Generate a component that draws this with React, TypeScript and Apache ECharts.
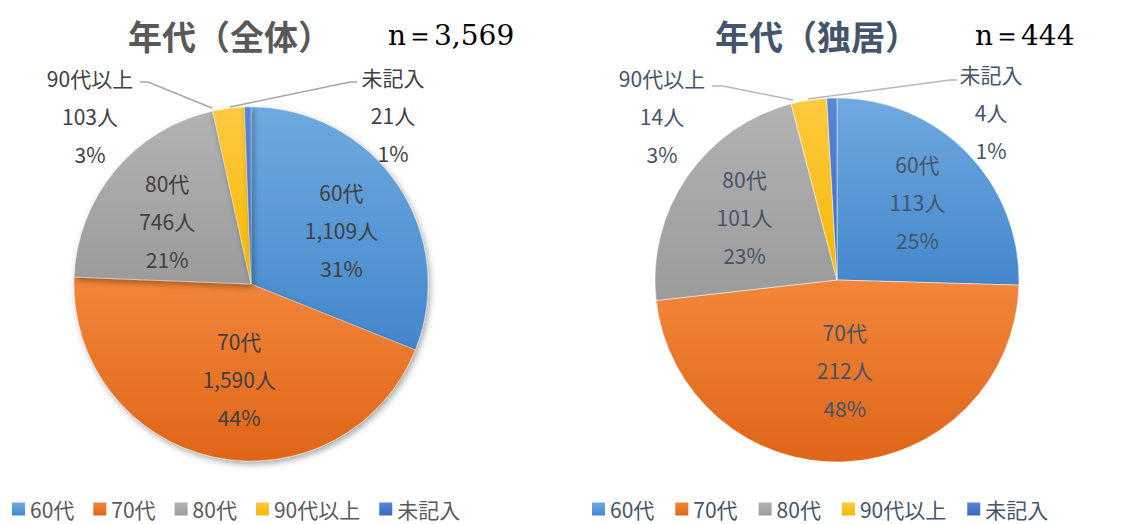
import React, { useEffect, useRef } from "react";
import * as echarts from "echarts";

const categories = ["60代", "70代", "80代", "90代以上", "未記入"];
const totalValues = [1109, 1590, 746, 103, 21];
const totalPercents = [31, 44, 21, 3, 1];
const soloValues = [113, 212, 101, 14, 4];
const soloPercents = [25, 48, 23, 3, 1];
const totalTitle = "年代（全体）";
const soloTitle = "年代（独居）";
const totalN = "n＝3,569";
const soloN = "n＝444";

const gradients: string[][] = [
  ["#6FA9DF", "#4387CB"],
  ["#F2863A", "#DF6518"],
  ["#B2B2B2", "#9B9B9B"],
  ["#FFC942", "#F4B900"],
  ["#5B86D4", "#3C69BE"],
];

const FONT = "'Noto Sans CJK JP', sans-serif";

function itemsFor(values: number[], withColor: boolean) {
  return values.map((v, i) => ({
    name: categories[i],
    value: v,
    itemStyle: withColor
      ? {
          color: new echarts.graphic.LinearGradient(0, 0, 0, 1, [
            { offset: 0, color: gradients[i][0] },
            { offset: 1, color: gradients[i][1] },
          ]),
        }
      : { color: "rgba(0,0,0,0)" },
  }));
}

function fmt(pcts: number[]) {
  return (p: any) =>
    `${p.name}\n${Number(p.value).toLocaleString("en-US")}人\n${pcts[p.dataIndex]}%`;
}

type Outside = { x: number; y: number; pts: number[][] };

function buildPie(
  values: number[],
  pcts: number[],
  center: number[],
  radius: number,
  textColor: string,
  lineColor: string,
  outside: Record<number, Outside>,
  insideShift: number[][],
  shadow: boolean
) {
  const visible = {
    type: "pie",
    center,
    radius,
    startAngle: 90,
    clockwise: true,
    avoidLabelOverlap: false,
    data: itemsFor(values, true).map((d, i) => ({
      ...d,
      label: { show: i >= 3 },
      labelLine: { show: i >= 3 },
    })),
    itemStyle: shadow
      ? {
          borderColor: "rgba(255,255,255,0.6)",
          borderWidth: 0.5,
          shadowBlur: 6,
          shadowColor: "rgba(0,0,0,0.35)",
          shadowOffsetX: 2,
          shadowOffsetY: 3,
        }
      : { borderColor: "rgba(255,255,255,0.8)", borderWidth: 0.6 },
    label: {
      position: "outside",
      formatter: fmt(pcts),
      color: textColor,
      fontSize: 21,
      lineHeight: 38,
      fontFamily: FONT,
    },
    labelLine: {
      lineStyle: { color: lineColor, width: 1.5 },
    },
    labelLayout: (p: any) => {
      const o = outside[p.dataIndex];
      if (!o) return {};
      return {
        x: o.x,
        y: o.y,
        align: "center",
        verticalAlign: "middle",
        labelLinePoints: o.pts,
      };
    },
    emphasis: { disabled: true },
    silent: true,
  };
  const overlay = {
    type: "pie",
    center,
    radius: [radius * 0.2, radius],
    startAngle: 90,
    clockwise: true,
    avoidLabelOverlap: false,
    data: itemsFor(values, false).map((d, i) => ({
      ...d,
      label: { show: i < 3 },
    })),
    label: {
      position: "inside",
      formatter: fmt(pcts),
      color: textColor,
      fontSize: 21,
      lineHeight: 38,
      fontFamily: FONT,
    },
    labelLayout: (p: any) => {
      const s = insideShift[p.dataIndex];
      if (!s) return {};
      return { dx: s[0], dy: s[1] };
    },
    labelLine: { show: false },
    emphasis: { disabled: true },
    silent: true,
    z: 5,
  };
  return [visible, overlay];
}

export default function App() {
  const ref = useRef<HTMLDivElement>(null);
  useEffect(() => {
    document.body.style.margin = "0";
    const chart = echarts.init(ref.current!, null, { renderer: "svg" });
    const leftOutside: Record<number, Outside> = {
      3: { x: 90, y: 116, pts: [[212, 108], [148, 82], [140, 82]] },
      4: { x: 393, y: 115, pts: [[230, 107], [350, 82], [357, 82]] },
    };
    const rightOutside: Record<number, Outside> = {
      3: { x: 662, y: 116, pts: [[793, 100], [723, 86], [712, 86]] },
      4: { x: 991, y: 112, pts: [[808, 99], [950, 80], [957, 80]] },
    };
    const leftShift = [[0, 7], [11, -12], [0, 7]];
    const rightShift = [[0, 0], [3, -22], [0, 0]];
    const legendBase = {
      data: categories,
      top: 498,
      padding: 0,
      icon: "rect",
      itemWidth: 13,
      itemHeight: 13,
      itemGap: 19,
      selectedMode: false,
      itemStyle: { borderWidth: 0, shadowBlur: 0, shadowOffsetX: 0, shadowOffsetY: 0 },
    };
    chart.setOption({
      animation: false,
      backgroundColor: "#ffffff",
      legend: [
        {
          ...legendBase,
          left: 12,
          textStyle: { fontSize: 21, lineHeight: 22, color: "#595959", fontFamily: FONT },
        },
        {
          ...legendBase,
          left: 592,
          itemGap: 21,
          textStyle: { fontSize: 21, lineHeight: 22, color: "#44546A", fontFamily: FONT },
        },
      ],
      graphic: [
        {
          type: "text",
          x: 230,
          y: 35,
          style: {
            text: totalTitle,
            font: `bold 34px ${FONT}`,
            fill: "#595959",
            textAlign: "center",
            textVerticalAlign: "middle",
          },
        },
        {
          type: "text",
          x: 817,
          y: 35,
          style: {
            text: soloTitle,
            font: `bold 34px ${FONT}`,
            fill: "#44546A",
            textAlign: "center",
            textVerticalAlign: "middle",
          },
        },
        {
          type: "text",
          x: 388,
          y: 35,
          style: {
            text: totalN,
            font: `28px 'DejaVu Serif', serif`,
            fill: "#000000",
            textAlign: "left",
            textVerticalAlign: "middle",
          },
        },
        {
          type: "text",
          x: 975,
          y: 35,
          style: {
            text: soloN,
            font: `28px 'DejaVu Serif', serif`,
            fill: "#000000",
            textAlign: "left",
            textVerticalAlign: "middle",
          },
        },
      ],
      series: [
        ...buildPie(totalValues, totalPercents, [251, 284], 177, "#404040", "#A6A6A6", leftOutside, leftShift, true),
        ...buildPie(soloValues, soloPercents, [837, 280], 182, "#44546A", "#ADB9CA", rightOutside, rightShift, false),
      ],
    });
    return () => chart.dispose();
  }, []);
  return <div ref={ref} style={{ width: 1121, height: 524 }} />;
}
